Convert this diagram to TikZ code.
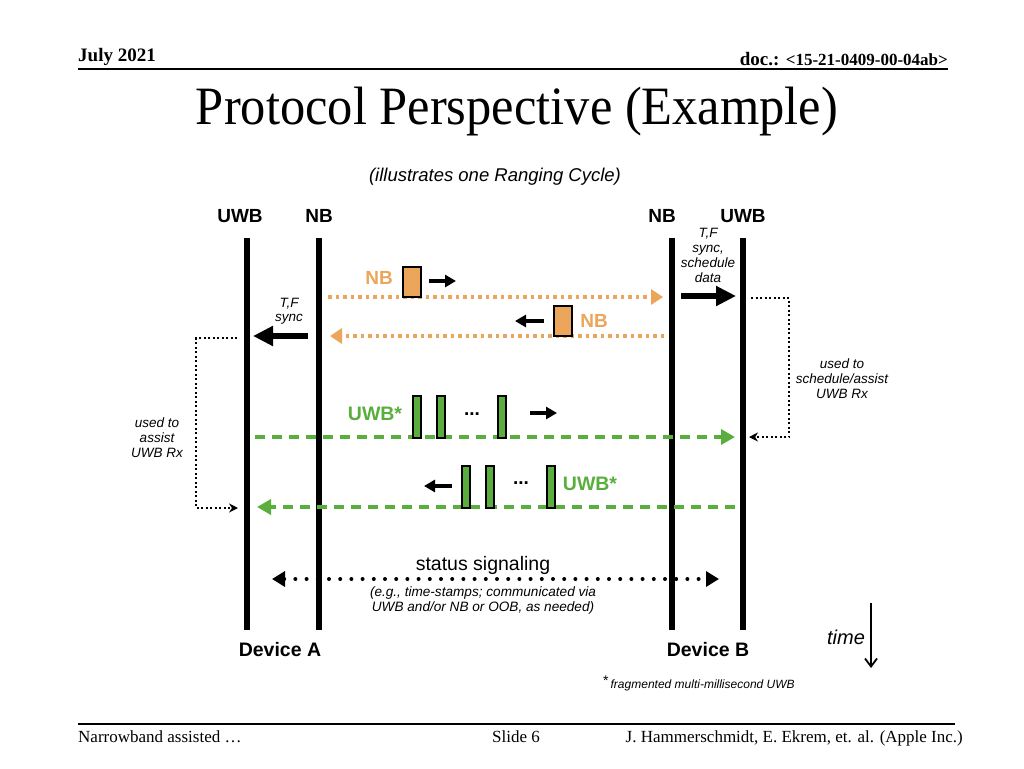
\documentclass[tikz,border=0pt]{standalone}
\usepackage{fontspec}
\setmainfont{Liberation Serif}
\setsansfont{Liberation Sans}
\usetikzlibrary{arrows.meta}
\definecolor{nbor}{HTML}{EBA65C}
\definecolor{uwbg}{HTML}{5AAE3E}
\newcommand{\fsz}[1]{\fontsize{#1}{#1}\selectfont}
\newcommand{\fszl}[1]{\fontsize{#1}{15}\selectfont}
\tikzset{
  lifeline/.style={line width=6.5pt},
  hdr/.style={inner sep=0pt, font=\bfseries\fsz{19}},
  ftr/.style={inner sep=0pt, font=\fsz{17}},
  lbl/.style={inner sep=0pt, font=\sffamily\bfseries\fsz{19}},
  nblbl/.style={lbl, text=nbor},
  uwblbl/.style={lbl, text=uwbg},
  note/.style={inner sep=0pt, align=center, font=\sffamily\itshape\fszl{13.5}},
  nbmsg/.style={draw=nbor, line width=3.5pt, dash pattern=on 3.5pt off 4pt, -{Triangle[length=12pt,width=15pt]}, nbor},
  uwbmsg/.style={draw=uwbg, line width=3.5pt, dash pattern=on 10pt off 7pt, -{Triangle[length=14pt,width=15pt]}, uwbg},
  nbbox/.style={draw=black, line width=1.5pt, fill=nbor, minimum width=18pt, minimum height=30pt, inner sep=0pt},
  uwbbar/.style={draw=black, line width=1.3pt, fill=uwbg, minimum width=8pt, minimum height=42pt, inner sep=0pt},
  smallarr/.style={line width=3.5pt, -{Triangle[length=11pt,width=12pt]}},
  bigarr/.style={line width=6pt, -{Triangle[length=20pt,width=19pt]}},
  bracket/.style={line width=2.5pt, dash pattern=on 2pt off 2.5pt, -{Stealth[length=9pt,width=9pt]}},
  statusline/.style={line width=4pt, line cap=round, dash pattern=on 0pt off 11.2pt, {Triangle[length=13pt,width=15pt]}-{Triangle[length=13pt,width=15pt]}},
}
\begin{document}
\begin{tikzpicture}[x=1pt,y=-1pt]
\useasboundingbox (0,0) rectangle (1024,768);
\fill[white] (0,0) rectangle (1024,768);

% header
\node[hdr, anchor=base west] (date) at (78,61) {July 2021};
\node[hdr, anchor=base east] (doc) at (948,65) {doc.: \fsz{17}<15-21-0409-00-04ab>};
\coordinate (hl1) at (78,69);
\coordinate (hl2) at (948,69);
\draw[line width=2pt] (hl1) -- (hl2);

% title
\node[inner sep=0pt, font=\fsz{54}] (title) at (517,112) {\scalebox{0.935}[1]{Protocol Perspective (Example)}};
\node[inner sep=0pt, font=\sffamily\itshape\fsz{18.5}] (sub) at (495,177) {(illustrates one Ranging Cycle)};

% lifeline labels
\node[lbl] (lU) at (240,216) {UWB};
\node[lbl] (lN) at (319,216) {NB};
\node[lbl] (rN) at (662,216) {NB};
\node[lbl] (rU) at (743,216) {UWB};

% lifelines
\coordinate (aUt) at (247,238); \coordinate (aUb) at (247,630);
\coordinate (aNt) at (319,238); \coordinate (aNb) at (319,630);
\coordinate (bNt) at (672,238); \coordinate (bNb) at (672,630);
\coordinate (bUt) at (743,238); \coordinate (bUb) at (743,630);
\draw[lifeline] (aUt) -- (aUb);
\draw[lifeline] (aNt) -- (aNb);
\draw[lifeline] (bNt) -- (bNb);
\draw[lifeline] (bUt) -- (bUb);

\node[lbl, font=\sffamily\bfseries\fsz{19.5}] (devA) at (280,650) {Device A};
\node[lbl, font=\sffamily\bfseries\fsz{19.5}] (devB) at (708,650) {Device B};

% NB message 1
\coordinate (nb1s) at (328,297); \coordinate (nb1e) at (663,297);
\draw[nbmsg] (nb1s) -- (nb1e);
\node[nbbox] (box1) at (412,282) {};
\node[nblbl] (nbt1) at (379,278) {NB};
\coordinate (sa1s) at (429,281); \coordinate (sa1e) at (456,281);
\draw[smallarr] (sa1s) -- (sa1e);

% NB message 2
\coordinate (nb2s) at (664,336); \coordinate (nb2e) at (330,336);
\draw[nbmsg] (nb2s) -- (nb2e);
\node[nbbox] (box2) at (563,321) {};
\node[nblbl] (nbt2) at (594,321) {NB};
\coordinate (sa2s) at (544,321); \coordinate (sa2e) at (515,321);
\draw[smallarr] (sa2s) -- (sa2e);

% T,F sync arrows
\node[note, font=\sffamily\itshape\fontsize{13.5}{14}\selectfont] (tfA) at (289,311) {T,F\\sync};
\coordinate (tfAs) at (308,336); \coordinate (tfAe) at (253,336);
\draw[bigarr] (tfAs) -- (tfAe);
\node[note] (tfB) at (708,255) {T,F\\sync,\\schedule\\data};
\coordinate (tfBs) at (681,296); \coordinate (tfBe) at (736,296);
\draw[bigarr] (tfBs) -- (tfBe);

% brackets
\coordinate (rb1) at (751,298); \coordinate (rb2) at (789,298);
\coordinate (rb3) at (789,437); \coordinate (rb4) at (749,437);
\draw[bracket] (rb1) -- (rb2) -- (rb3) -- (rb4);
\node[note] (rbt) at (842,379) {used to\\schedule/assist\\UWB Rx};

\coordinate (lb1) at (237,338); \coordinate (lb2) at (196,338);
\coordinate (lb3) at (196,508); \coordinate (lb4) at (238,508);
\draw[bracket] (lb1) -- (lb2) -- (lb3) -- (lb4);
\node[note] (lbt) at (157,438) {used to\\assist\\UWB Rx};

% UWB message 1
\coordinate (u1s) at (255,437); \coordinate (u1e) at (735,437);
\draw[uwbmsg] (u1s) -- (u1e);
\node[uwbbar] (b11) at (417,417) {};
\node[uwbbar] (b12) at (441,417) {};
\node[uwbbar] (b13) at (502,417) {};
\node[inner sep=0pt, font=\sffamily\bfseries\fsz{19}] (d1) at (472,414) {...};
\node[uwblbl, font=\sffamily\bfseries\fsz{19.5}] (ut1) at (375,414) {UWB*};
\coordinate (sa3s) at (530,413); \coordinate (sa3e) at (557,413);
\draw[smallarr] (sa3s) -- (sa3e);

% UWB message 2
\coordinate (u2s) at (735,507); \coordinate (u2e) at (257,507);
\draw[uwbmsg] (u2s) -- (u2e);
\node[uwbbar] (b21) at (466,487) {};
\node[uwbbar] (b22) at (490,487) {};
\node[uwbbar] (b23) at (551,487) {};
\node[inner sep=0pt, font=\sffamily\bfseries\fsz{19}] (d2) at (521,483) {...};
\node[uwblbl, font=\sffamily\bfseries\fsz{19.5}] (ut2) at (590,484) {UWB*};
\coordinate (sa4s) at (452,486); \coordinate (sa4e) at (424,486);
\draw[smallarr] (sa4s) -- (sa4e);

% status signaling
\node[inner sep=0pt, font=\sffamily\fsz{19.5}] (st) at (483,565) {status signaling};
\coordinate (ss1) at (272,579); \coordinate (ss2) at (719,579);
\draw[statusline] (ss1) -- (ss2);
\node[note, font=\sffamily\itshape\fszl{13.6}] (stn) at (483,600) {(e.g., time-stamps; communicated via\\UWB and/or NB or OOB, as needed)};

% time
\node[inner sep=0pt, font=\sffamily\itshape\fsz{20}] (time) at (846,637) {time};
\coordinate (t1) at (871,603); \coordinate (t2) at (871,668);
\draw[line width=1.8pt, -{Straight Barb[length=8pt,width=12pt]}] (t1) -- (t2);

\node[inner sep=0pt, font=\sffamily\itshape\fsz{12}, anchor=west] (fn) at (603,683) {\raisebox{3pt}{\upshape\fsz{14}*}\,fragmented multi-millisecond UWB};

% footer
\coordinate (fl1) at (78,724); \coordinate (fl2) at (955,724);
\draw[line width=1.5pt] (fl1) -- (fl2);
\node[ftr, anchor=base west] (f1) at (78,742) {Narrowband assisted …};
\node[ftr, anchor=base] (f2) at (516,742) {Slide 6};
\node[ftr, anchor=base east] (f3) at (963,742) {J. Hammerschmidt, E. Ekrem, et. al. (Apple Inc.)};
\end{tikzpicture}
\end{document}
